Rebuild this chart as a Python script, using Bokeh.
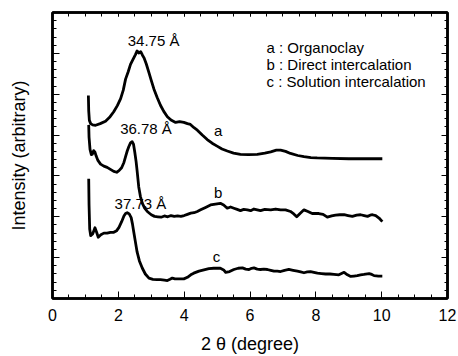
from bokeh.plotting import figure
from bokeh.models import Range1d, LinearAxis, SingleIntervalTicker, CustomJSTickFormatter
from bokeh.core.properties import value
from bokeh.embed import file_html
from bokeh.resources import INLINE

FONT = "Liberation Sans"

# Curve a : Organoclay
a_x = [1.09, 1.10, 1.12, 1.16, 1.22, 1.31, 1.45, 1.61, 1.75, 1.86, 1.97, 2.07, 2.15, 2.22, 2.30,
       2.37, 2.45, 2.52, 2.57, 2.62, 2.68, 2.73, 2.78, 2.85, 2.93, 3.00, 3.08, 3.18, 3.28, 3.38,
       3.49, 3.60, 3.74, 3.86, 3.99, 4.10, 4.19, 4.30, 4.40, 4.55, 4.70, 4.85, 5.00, 5.15, 5.31,
       5.50, 5.71, 5.95, 6.22, 6.45, 6.63, 6.80, 6.93, 7.08, 7.23, 7.45, 7.64, 7.85, 8.04, 8.50,
       9.00, 9.50, 10.02]
a_y = [4.97, 4.60, 4.36, 4.28, 4.25, 4.24, 4.28, 4.34, 4.45, 4.57, 4.72, 4.89, 5.10, 5.37, 5.55,
       5.73, 5.86, 5.97, 6.06, 6.01, 6.04, 5.96, 5.89, 5.74, 5.53, 5.34, 5.13, 4.92, 4.73, 4.58,
       4.45, 4.37, 4.31, 4.33, 4.31, 4.28, 4.26, 4.18, 4.12, 4.00, 3.89, 3.80, 3.73, 3.66, 3.61,
       3.56, 3.53, 3.52, 3.53, 3.56, 3.59, 3.63, 3.63, 3.60, 3.55, 3.50, 3.47, 3.45, 3.44, 3.43,
       3.42, 3.42, 3.42]

# Curve b : Direct intercalation
b_x = [1.10, 1.11, 1.14, 1.18, 1.21, 1.25, 1.29, 1.33, 1.38, 1.46, 1.56, 1.66, 1.76, 1.86, 1.95,
       2.02, 2.10, 2.17, 2.22, 2.27, 2.32, 2.37, 2.42, 2.46, 2.50, 2.54, 2.57, 2.62, 2.67, 2.73,
       2.80, 2.88, 3.00, 3.10, 3.20, 3.30, 3.40, 3.50, 3.60, 3.70, 3.80, 3.90, 4.00, 4.10, 4.20,
       4.30, 4.40, 4.50, 4.65, 4.80, 4.95, 5.10, 5.20, 5.31, 5.41, 5.51, 5.61, 5.71, 5.81, 5.92,
       6.02, 6.12, 6.22, 6.32, 6.45, 6.63, 6.78, 6.93, 7.08, 7.23, 7.33, 7.42, 7.52, 7.64, 7.76,
       7.89, 8.09, 8.22, 8.35, 8.48, 8.60, 8.73, 8.86, 8.98, 9.11, 9.24, 9.36, 9.47, 9.57, 9.65,
       9.72, 9.82, 9.92, 10.02]
b_y = [4.25, 3.95, 3.65, 3.52, 3.53, 3.62, 3.58, 3.48, 3.38, 3.29, 3.24, 3.21, 3.16, 3.11, 3.09,
       3.13, 3.20, 3.33, 3.47, 3.61, 3.72, 3.81, 3.84, 3.78, 3.58, 3.35, 3.13, 2.73, 2.50, 2.33,
       2.21, 2.13, 2.05, 2.01, 2.00, 1.99, 2.02, 2.00, 2.03, 2.01, 2.02, 2.01, 2.03, 2.06, 2.09,
       2.10, 2.13, 2.17, 2.23, 2.29, 2.31, 2.33, 2.29, 2.21, 2.24, 2.21, 2.18, 2.15, 2.18, 2.17,
       2.15, 2.19, 2.17, 2.15, 2.18, 2.17, 2.19, 2.17, 2.17, 2.13, 2.07, 2.00, 2.08, 2.17, 2.13,
       2.08, 2.08, 2.06, 1.99, 2.02, 2.04, 2.05, 2.05, 2.03, 2.01, 2.04, 2.05, 2.03, 2.01, 2.04,
       2.05, 2.03, 1.97, 1.88]

# Curve c : Solution intercalation
c_x = [1.10, 1.11, 1.13, 1.16, 1.22, 1.29, 1.34, 1.39, 1.47, 1.56, 1.66, 1.76, 1.86, 1.95, 2.02,
       2.10, 2.17, 2.22, 2.27, 2.33, 2.39, 2.43, 2.47, 2.52, 2.57, 2.64, 2.73, 2.82, 2.93, 3.05,
       3.18, 3.28, 3.40, 3.49, 3.57, 3.64, 3.72, 3.82, 3.99, 4.10, 4.20, 4.29, 4.45, 4.60, 4.75,
       4.90, 5.00, 5.10, 5.20, 5.26, 5.38, 5.51, 5.64, 5.77, 5.87, 5.97, 6.05, 6.12, 6.22, 6.32,
       6.42, 6.53, 6.63, 6.73, 6.83, 6.93, 7.05, 7.18, 7.31, 7.44, 7.54, 7.64, 7.74, 7.84, 7.94,
       8.05, 8.17, 8.30, 8.43, 8.55, 8.70, 8.86, 8.96, 9.06, 9.16, 9.26, 9.36, 9.46, 9.62, 9.70,
       9.77, 9.90, 10.02]
c_y = [2.93, 2.30, 1.70, 1.54, 1.58, 1.73, 1.62, 1.50, 1.56, 1.60, 1.60, 1.62, 1.62, 1.66, 1.74,
       1.88, 2.02, 2.08, 2.10, 2.07, 1.98, 1.82, 1.62, 1.38, 1.14, 0.92, 0.74, 0.60, 0.50, 0.47,
       0.46, 0.46, 0.45, 0.44, 0.47, 0.50, 0.48, 0.48, 0.48, 0.52, 0.58, 0.62, 0.67, 0.70, 0.73,
       0.74, 0.74, 0.74, 0.70, 0.64, 0.66, 0.71, 0.74, 0.75, 0.72, 0.71, 0.74, 0.75, 0.72, 0.71,
       0.72, 0.71, 0.69, 0.67, 0.67, 0.66, 0.69, 0.71, 0.69, 0.67, 0.65, 0.63, 0.65, 0.66, 0.64,
       0.62, 0.61, 0.60, 0.60, 0.59, 0.58, 0.64, 0.58, 0.54, 0.55, 0.56, 0.58, 0.59, 0.61, 0.59,
       0.56, 0.55, 0.55]

# Annotations
ann_text = ["34.75 Å", "36.78 Å", "37.73 Å", "a", "b", "c"]
ann_x = [3.07, 2.84, 2.67, 5.03, 5.03, 4.98]
ann_y = [6.31, 4.16, 2.33, 4.11, 2.59, 1.03]

leg_text = ["a : Organoclay", "b : Direct intercalation", "c : Solution intercalation"]
leg_x = [6.5, 6.5, 6.5]
leg_y = [6.14, 5.73, 5.32]

p = figure(width=458, height=356, x_range=Range1d(0, 12), y_range=Range1d(0, 7),
           output_backend="svg", toolbar_location=None,
           min_border_left=52, min_border_right=11, min_border_top=12, min_border_bottom=52,
           x_axis_label="2 θ (degree)", y_axis_label="Intensity (arbitrary)")
p.xgrid.visible = False
p.ygrid.visible = False
p.outline_line_color = "black"
p.outline_line_width = 2.5
p.background_fill_color = "white"

for xs, ys in [(a_x, a_y), (b_x, b_y), (c_x, c_y)]:
    p.line(xs, ys, line_color="black", line_width=2.8, line_join="round")

p.text(x=ann_x, y=ann_y, text=ann_text, text_align="center", text_baseline="middle",
       text_font=value(FONT), text_font_size="15px", text_color="black")
p.text(x=leg_x, y=leg_y, text=leg_text, text_align="left", text_baseline="middle",
       text_font=value(FONT), text_font_size="15px", text_color="black")

blank = CustomJSTickFormatter(code="return ''")

xa = p.xaxis[0]
xa.ticker = SingleIntervalTicker(interval=2, num_minor_ticks=4)
xa.major_tick_in = 7
xa.major_tick_out = 0
xa.minor_tick_in = 4
xa.minor_tick_out = 0
xa.axis_line_width = 2.5
xa.major_label_text_font = FONT
xa.major_label_text_font_size = "16px"
xa.major_label_text_color = "black"
xa.major_label_standoff = 10
xa.axis_label_text_font = FONT
xa.axis_label_text_font_size = "18px"
xa.axis_label_text_font_style = "normal"
xa.axis_label_text_color = "black"
xa.axis_label_standoff = 10

ya = p.yaxis[0]
ya.ticker = SingleIntervalTicker(interval=1, num_minor_ticks=5)
ya.formatter = blank
ya.major_tick_in = 7
ya.major_tick_out = 0
ya.minor_tick_in = 4
ya.minor_tick_out = 0
ya.axis_line_width = 2.5
ya.major_label_standoff = 0
ya.major_label_text_font_size = "1px"
ya.axis_label_text_font = FONT
ya.axis_label_text_font_size = "18px"
ya.axis_label_text_font_style = "normal"
ya.axis_label_text_color = "black"
ya.axis_label_standoff = 24

top = LinearAxis(ticker=SingleIntervalTicker(interval=2, num_minor_ticks=4), formatter=blank,
                 major_tick_in=4, major_tick_out=0, minor_tick_in=4, minor_tick_out=0,
                 axis_line_width=2.5, major_label_standoff=0, major_label_text_font_size="1px")
p.add_layout(top, "above")
right = LinearAxis(ticker=SingleIntervalTicker(interval=1, num_minor_ticks=5), formatter=blank,
                   major_tick_in=6, major_tick_out=0, minor_tick_in=3, minor_tick_out=0,
                   axis_line_width=2.5, major_label_standoff=0, major_label_text_font_size="1px")
p.add_layout(right, "right")

open("out.html", "w").write(file_html(p, INLINE))
